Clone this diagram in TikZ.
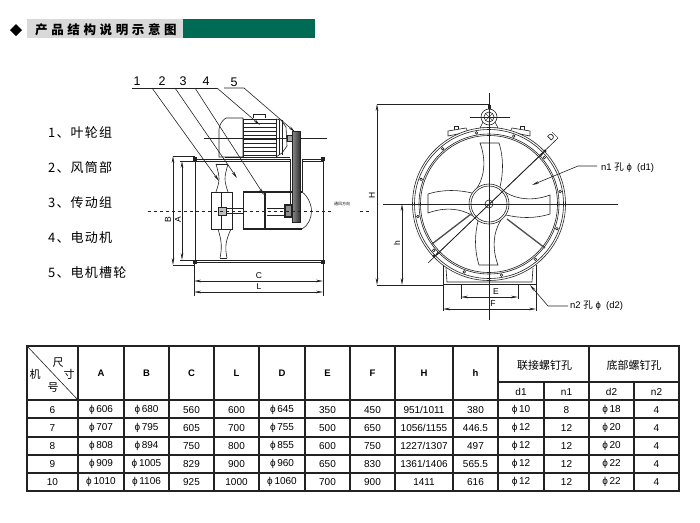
\documentclass[tikz,border=0pt]{standalone}
\usepackage{fontspec}
\setmainfont{Liberation Sans}
\newfontfamily\cjk{Noto Sans CJK SC}
\newfontfamily\cjkwide[LetterSpace=29]{Noto Sans CJK SC}
\newfontfamily\cjklist[LetterSpace=9]{Noto Sans CJK SC}
\usetikzlibrary{calc,arrows.meta}
\definecolor{barteal}{HTML}{006B54}
\definecolor{bargrey}{HTML}{D9D9D9}
\definecolor{drawink}{HTML}{222222}
\tikzset{>={Stealth[length=7pt,width=2.6pt]},
  part/.style={line width=.6pt,drawink},
  heavy/.style={line width=1.2pt,drawink},
  thin line/.style={line width=.35pt,drawink},
  grid/.style={line width=1.3pt,drawink},
  cell/.style={inner sep=0pt,font=\fontsize{10}{11}\selectfont},
  headcell/.style={inner sep=0pt,font=\fontsize{9.5}{11}\selectfont\bfseries},
  cjkcell/.style={inner sep=0pt,font=\fontsize{11}{12}\selectfont\cjk},
  listitem/.style={inner sep=0pt,anchor=west,font=\fontsize{13}{14}\selectfont\cjklist},
  number/.style={inner sep=0pt,font=\fontsize{12.5}{14}\selectfont},
  dimlabel/.style={inner sep=0pt,font=\fontsize{8.5}{9}\selectfont},
  holelabel/.style={inner sep=0pt,anchor=west,font=\fontsize{9.5}{10}\selectfont}}
\newcommand{\tablerow}[3]{\foreach \txt [count=\c] in {#3}
  \node[cell] (#1c\c) at (col\c |- 0,#2) {\txt};}
\begin{document}
\begin{tikzpicture}[x=1pt,y=-1pt]
\useasboundingbox (0,0) rectangle (700,522);
\fill (16,24) -- (22,30) -- (16,36) -- (10,30) -- cycle;
\fill[bargrey] (27,19) rectangle (183,38);
\fill[barteal] (183,19) rectangle (315,38);
\node[inner sep=0pt,anchor=west,font=\fontsize{12.5}{14}\selectfont\bfseries\cjkwide] (title) at (35,29.5) {产品结构说明示意图};
\node[listitem] (item1) at (48,133) {1、叶轮组};
\node[listitem] (item2) at (48,168) {2、风筒部};
\node[listitem] (item3) at (48,203) {3、传动组};
\node[listitem] (item4) at (48,238) {4、电动机};
\node[listitem] (item5) at (48,273) {5、电机槽轮};
\draw[part] (219,129) .. controls (220,123) and (223,120) .. (226,118) -- (243,118) -- (243,157) -- (219,157) -- cycle;
\draw[part] (253,118) -- (253,114) -- (265,114) -- (265,118);
\draw[part] (243,119) rectangle (276,157);
\foreach \y in {123,127,...,156} \draw[thin line] (243,\y) -- (276,\y);
\draw[part] (276,119) -- (281,120) -- (286,127) -- (287,146) -- (282,153) -- (276,157);
\foreach \x in {279,282} \draw[thin line] (\x,120) -- (\x,155);
\draw[thin line] (204,138) -- (327,138);
\draw[part] (225,157) -- (290,157);
\draw[part] (195,159) -- (290,159);
\draw[part] (195,161) -- (290,161);
\draw[part] (302,159) -- (323,159);
\draw[part] (302,161) -- (323,161);
\draw[part] (195,160) -- (195,262);
\draw[part] (323,160) -- (323,262);
\draw[part] (195,260) -- (323,260);
\draw[heavy] (195,262.5) -- (323,262.5);
\fill[drawink] (193,157) rectangle (197,161);
\fill[drawink] (321,157) rectangle (325,161);
\fill[drawink] (193,260) rectangle (197,264);
\fill[drawink] (321,260) rectangle (325,264);
\draw[part] (216,164) .. controls (220,178) and (220,180) .. (216,192);
\draw[part] (228,164) .. controls (224,178) and (224,180) .. (228,192);
\draw[part] (216,164) -- (228,164);
\draw[part] (218,229) .. controls (222,242) and (222,248) .. (220,258);
\draw[part] (231,229) .. controls (225,242) and (225,248) .. (227,258);
\draw[part] (220,258) -- (227,258);
\draw[part,fill=white] (211,192) rectangle (232,229);
\draw[part] (221.5,192) -- (221.5,229);
\draw[part,fill=black!25] (218,207) rectangle (226,215);
\draw[part] (226,208.5) -- (243,208.5);
\draw[part] (226,213.5) -- (243,213.5);
\draw[heavy] (243,192) -- (302,192);
\draw[heavy] (243,229) -- (302,229);
\draw[part] (243,192) -- (243,229);
\draw[line width=1.8pt,drawink] (265,192) -- (265,229);
\draw[part] (302,159) -- (302,192);
\draw[part] (290,159) -- (290,205);
\draw[part] (267,208) -- (285,208);
\draw[part] (267,215) -- (285,215);
\draw[heavy,fill=black!45] (285,205) rectangle (292,217);
\draw[part] (302,192) .. controls (308,196) and (311.5,205) .. (311.5,211) .. controls (311.5,218) and (308,226) .. (302,229);
\draw[part,left color=black!45,right color=black!80] (292,131) rectangle (300,222);
\draw[part,fill=black!35] (287,135) rectangle (292,141);
\draw[dashed,line width=.6pt,drawink] (148,211) -- (333,211);
\draw[dashed,line width=.6pt,drawink] (360,211) -- (372,211);
\node[inner sep=0pt,font=\fontsize{4}{5}\selectfont\cjk] (airflow) at (342,204) {通风方向};
\coordinate (lead1a) at (132,88);
\coordinate (lead1b) at (152,88);
\coordinate (lead1c) at (219,181);
\coordinate (lead2b) at (175,88);
\coordinate (lead2c) at (237,178);
\coordinate (lead3b) at (195,88);
\coordinate (lead3c) at (264,195);
\coordinate (lead4b) at (217,88);
\coordinate (lead4c) at (260,125);
\coordinate (lead5a) at (224,88);
\coordinate (lead5b) at (244,88);
\coordinate (lead5c) at (295,132);
\draw[part] (lead1a) -- (lead4b);
\draw[part,->] (lead1b) -- (lead1c);
\draw[part,->] (lead2b) -- (lead2c);
\draw[part,->] (lead3b) -- (lead3c);
\draw[part,->] (lead4b) -- (lead4c);
\draw[part,->] (lead5a) -- (lead5b) -- (lead5c);
\node[number] (num1) at (137,81) {1};
\node[number] (num2) at (162,81) {2};
\node[number] (num3) at (183,81) {3};
\node[number] (num4) at (206,81) {4};
\node[number] (num5) at (234,82) {5};
\draw[thin line] (173,156) -- (195,156);
\draw[thin line] (173,265) -- (195,265);
\draw[thin line] (180,161) -- (195,161);
\draw[thin line] (180,260) -- (195,260);
\draw[part,<->] (173,156) -- (173,265);
\draw[part,<->] (182,161) -- (182,260);
\node[dimlabel,rotate=90] (labB) at (168,220) {B};
\node[dimlabel,rotate=90] (labA) at (178,220) {A};
\draw[thin line] (194,264) -- (194,296);
\draw[thin line] (323,264) -- (323,296);
\draw[part,<->] (194,281) -- (323,281);
\draw[part,<->] (194,292) -- (323,292);
\node[dimlabel] (labC) at (259,276) {C};
\node[dimlabel] (labL) at (259,287) {L};
\coordinate (fanc) at (489,204);
\draw[thin line] (377,104) -- (489,104);
\draw[part] (443,265) -- (443,285);
\draw[part] (536,265) -- (536,285);
\draw[part] (446,268) -- (447,282) -- (532,282) -- (533,268);
\draw[heavy] (443,284.5) -- (536,284.5);
\draw[thin line] (377,285) -- (443,285);
\draw[part,fill=white] (454,126) rectangle (458,131);
\draw[part,fill=white] (520,126) rectangle (524,131);
\draw[part,fill=white] (448,136) -- (448,131) -- (466,128) -- (468,132) -- cycle;
\draw[part,fill=white] (530,136) -- (530,131) -- (512,128) -- (510,132) -- cycle;
\draw[part,fill=white] (480,128) -- (483,122) -- (495,122) -- (498,128) -- cycle;
\draw[part,fill=white] (fanc) circle (76.5);
\draw[part] (fanc) circle (74.5);
\draw[part] (fanc) circle (70);
\draw[part] (fanc) circle (68.5);
\foreach \a in {20,50,...,350} \draw[part,fill=white] ($(fanc)+(\a:72.2)$) circle (1.3);
\begin{scope}[shift={(fanc)}]
\foreach \r in {0,90,180,270}
  \draw[part,rotate=\r] (-12,-16) .. controls (-4,-28) and (-3,-45) .. (-9,-61) -- (10,-61) .. controls (15,-45) and (14,-30) .. (11,-17);
\end{scope}
\draw[line width=1.3pt,black!70] (471,214) -- (432,244);
\draw[line width=1.3pt,black!70] (507,219) -- (545,248);
\draw[part,fill=white] (fanc) circle (20);
\draw[part] (fanc) circle (18);
\draw[part] (489,204) circle (4);
\draw[part,fill=white] (489,117) circle (8);
\draw[part] (489,117) circle (5);
\foreach \a in {0,45,...,315} \draw[thin line] (489,117) -- +(\a:5);
\fill[drawink] (487.5,105) rectangle (490.5,109);
\draw[thin line] (470,117) -- (510,117);
\draw[thin line] (489,93) -- (489,320);
\draw[part] (383,204) -- (618,204);
\coordinate (dlow) at (428,263);
\coordinate (dhigh) at (558,138);
\draw[part] (dlow) -- (dhigh);
\draw[part,<->] (434,257) -- (545,151);
\fill[drawink] (434,256) circle (1.6);
\fill[drawink] (545,151) circle (1.6);
\draw[thin line] (552,132) -- (558,138);
\node[dimlabel,rotate=45] (labD) at (551,137) {D};
\draw[part,<->] (377,104) -- (377,285);
\draw[part,<->] (402,204) -- (402,285);
\node[dimlabel,rotate=90] (labH) at (372,195) {H};
\node[dimlabel,rotate=90] (labh) at (397,243) {h};
\draw[thin line] (461,285) -- (461,299);
\draw[thin line] (518,285) -- (518,299);
\draw[thin line] (443,285) -- (443,311);
\draw[thin line] (536,285) -- (536,311);
\draw[part,<->] (461,297) -- (518,297);
\draw[part,<->] (443,309) -- (536,309);
\node[dimlabel] (labE) at (496,292) {E};
\node[dimlabel] (labF) at (493,304) {F};
\coordinate (n1a) at (597,166);
\coordinate (n1b) at (578,166);
\coordinate (n1c) at (532,185);
\draw[part,->] (n1a) -- (n1b) -- (n1c);
\node[holelabel] (n1lab) at (601,168) {n1\ {\cjk 孔}\ ϕ\ \ (d1)};
\coordinate (n2a) at (568,306);
\coordinate (n2b) at (548,306);
\coordinate (n2c) at (530,285);
\draw[part,->] (n2a) -- (n2b) -- (n2c);
\node[holelabel] (n2lab) at (570,306) {n2\ {\cjk 孔}\ ϕ\ \ (d2)};
\draw[grid] (27,346) rectangle (679,491);
\foreach \x in {78,124,169,214,259,305,350,395,453,498,589} \draw[grid] (\x,346) -- (\x,491);
\foreach \x in {544,634} \draw[grid] (\x,382) -- (\x,491);
\foreach \y in {400,418,437,455,473} \draw[grid] (27,\y) -- (679,\y);
\draw[grid] (498,382) -- (679,382);
\draw[part] (27,346) -- (78,400);
\foreach \xm [count=\c] in {52.5,101,146.5,191.5,236.5,282,327.5,372.5,424,475.5,521,566.5,611.5,656.5}
  \coordinate (col\c) at (\xm,0);
\node[cjkcell] (chi) at (58,363) {尺};
\node[cjkcell] (cun) at (69,374) {寸};
\node[cjkcell] (ji) at (35,374) {机};
\node[cjkcell] (hao) at (53,388) {号};
\foreach \txt [count=\c from 2] in {A,B,C,L,D,E,F,H,h}
  \node[headcell] (head\c) at (col\c |- 0,373.5) {\txt};
\node[cjkcell] (joint) at (544.5,365) {联接螺钉孔};
\node[cjkcell] (bottom) at (634,365) {底部螺钉孔};
\node[cell] (subd1) at (col11 |- 0,392) {d1};
\node[cell] (subn1) at (col12 |- 0,392) {n1};
\node[cell] (subd2) at (col13 |- 0,392) {d2};
\node[cell] (subn2) at (col14 |- 0,392) {n2};
\tablerow{rowa}{410}{6,ϕ\,606,ϕ\,680,560,600,ϕ\,645,350,450,951/1011,380,ϕ\,10,8,ϕ\,18,4}
\tablerow{rowb}{428}{7,ϕ\,707,ϕ\,795,605,700,ϕ\,755,500,650,1056/1155,446.5,ϕ\,12,12,ϕ\,20,4}
\tablerow{rowc}{446}{8,ϕ\,808,ϕ\,894,750,800,ϕ\,855,600,750,1227/1307,497,ϕ\,12,12,ϕ\,20,4}
\tablerow{rowd}{464}{9,ϕ\,909,ϕ\,1005,829,900,ϕ\,960,650,830,1361/1406,565.5,ϕ\,12,12,ϕ\,22,4}
\tablerow{rowe}{482}{10,ϕ\,1010,ϕ\,1106,925,1000,ϕ\,1060,700,900,1411,616,ϕ\,12,12,ϕ\,22,4}
\end{tikzpicture}
\end{document}
